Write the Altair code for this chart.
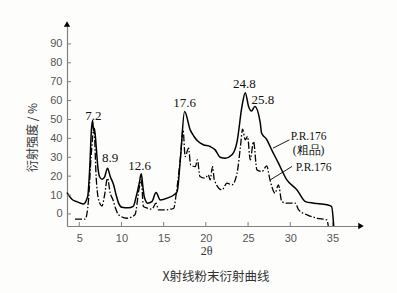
import altair as alt
import pandas as pd

# ---- data ----
crude_x = [3.55, 4.2, 4.7, 5.5, 6.0, 6.25, 6.45, 6.58, 6.7, 6.8, 7.0, 7.2, 7.4, 7.7, 8.0, 8.35,
           8.67, 9.07, 9.4, 9.66, 10.05, 10.8, 11.4, 11.75, 12.1, 12.35, 12.55, 12.7, 13.1, 13.6,
           14.1, 14.6, 15.5, 16.2, 16.6, 17.0, 17.48, 18.15, 18.6, 19.1, 19.7, 20.5, 21.1, 21.7,
           22.3, 23.1, 23.7, 24.28, 24.67, 25.06, 25.4, 25.8, 26.45, 26.6, 27.2, 27.8, 28.6, 29.6,
           30.8, 31.8, 32.8, 34.35, 34.9, 35.15]
crude_y = [11.3, 7.5, 6.5, 5.3, 9.2, 25, 45, 49.5, 44, 45.4, 36, 25, 19.8, 18.4, 19.5, 24.2,
           19.8, 15.4, 9.5, 5.7, 3.5, 3.2, 4, 9.2, 16, 21.2, 14, 9.2, 5.7, 6.5,
           11.3, 7.4, 8.5, 10, 11.8, 30, 54.2, 44.5, 41, 38.3, 36.6, 35.7, 33.9, 30,
           29.5, 31.3, 38.3, 56.9, 64.2, 56.9, 54.5, 56.8, 48, 42.8, 39.5, 33.9, 26.9, 18,
           12.7, 6.5, 5.7, 4.8, 3.9, -6.4]

pure_x = [4.5, 5.7, 6.1, 6.4, 6.75, 7.0, 7.3, 7.7, 8.0, 8.35, 8.67, 9.0, 9.3, 9.66, 10.65,
          11.6, 12.1, 12.35, 12.6, 13.1, 13.6, 14.1, 14.4, 15.0, 15.8, 16.2, 16.5, 17.0, 17.3,
          17.55, 17.95, 18.2, 18.75, 19.0, 19.3, 19.9, 20.3, 20.5, 20.8, 21.0, 21.9, 22.5, 23.1,
          23.7, 24.1, 24.35, 24.67, 24.94, 25.26, 25.65, 26.05, 26.65, 27.2, 27.6, 28.2, 28.6,
          29.0, 29.6, 30.6, 31.0, 32.0, 33.2, 34.35, 34.5]
pure_y = [-2.8, -2.8, 7.4, 30, 45, 19.8, 7.4, 4.2, 10, 18.9, 11, 7.4, 3, -0.5, -2.3,
          -0.5, 13.6, 18, 3.9, 3, 2.5, 5.7, 2.1, 2.1, 2.5, 3, 11, 30.4, 44.5,
          30.4, 34.8, 26, 25, 28.6, 19.8, 18.9, 20.7, 18, 25, 18, 12.7, 16.3, 15.4,
          21.6, 35.7, 44.9, 39.2, 41, 28.6, 38.3, 23.3, 22.4, 25.4, 18, 11, 15.4,
          6.5, 5.7, 5.7, 2.1, -0.5, -2.3, -3.2, -6.4]

peak_text = ["7.2", "8.9", "12.6", "17.6", "24.8", "25.8"]
peak_x = [6.66, 8.67, 12.14, 17.48, 24.55, 26.76]
peak_y = [51.6, 29.5, 25.6, 58.7, 68.9, 60.4]

series_text = ["P.R.176", "(粗品)", "P.R.176"]
series_x = [32.17, 32.17, 32.76]
series_y = [40.7, 33.4, 24.2]

leader_x = [27.95, 27.63]
leader_y = [34.8, 18.0]
leader_x2 = [29.9, 30.2]
leader_y2 = [39.2, 25.1]

x_ticks = [5, 10, 15, 20, 25, 30, 35]
y_ticks = [0, 10, 20, 30, 40, 50, 60, 70, 80, 90]

W, H = 295, 201
xs = alt.Scale(domain=[3.55, 38.5], nice=False, zero=False)
ys = alt.Scale(domain=[-6.4, 100], nice=False, zero=False)

crude = pd.DataFrame({"x": crude_x, "y": crude_y})
pure = pd.DataFrame({"x": pure_x, "y": pure_y})
peaks = pd.DataFrame({"t": peak_text, "x": peak_x, "y": peak_y})
series = pd.DataFrame({"t": series_text, "x": series_x, "y": series_y})
leaders = pd.DataFrame({"x": leader_x, "y": leader_y, "x2": leader_x2, "y2": leader_y2})
xt = pd.DataFrame({"x": x_ticks})
yt = pd.DataFrame({"y": y_ticks})
one = pd.DataFrame({"t": ["X射线粉末衍射曲线"]})

label_col = "#555555"

x_axis = alt.Axis(
    values=x_ticks, ticks=False, grid=False, domainColor="#808080", domainWidth=1.2,
    labelFont="Liberation Sans", labelFontSize=11, labelColor=label_col, labelPadding=6,
    title="2θ", titleFont="Liberation Serif", titleFontSize=12, titleFontWeight="normal",
    titleColor="#333333", titleX=139, titleY=24, titleBaseline="middle")
y_axis = alt.Axis(
    values=y_ticks, ticks=False, grid=False, domainColor="#808080", domainWidth=1.2,
    labelFont="Liberation Sans", labelFontSize=11, labelColor=label_col, labelPadding=5,
    title="衍射强度 / %", titleFont="Noto Sans CJK SC", titleFontSize=12,
    titleFontWeight="normal", titleColor="#333333", titleX=-35, titleY=112,
    titleBaseline="middle", titleAlign="center")

X = alt.X("x:Q", scale=xs, axis=x_axis)
Y = alt.Y("y:Q", scale=ys, axis=y_axis)

base_line = alt.Chart(crude).mark_line(color="black", strokeWidth=1.5, interpolate="monotone").encode(
    x=X, y=Y)

pure_line = alt.Chart(pure).mark_line(color="black", strokeWidth=1.3, strokeDash=[7, 2, 1.5, 2],
                                      interpolate="monotone").encode(x=X, y=Y)

peak_lbl = alt.Chart(peaks).mark_text(font="Liberation Serif", fontSize=13, color="#111111",
                                      baseline="middle", align="center").encode(
    x=X, y=Y, text="t:N")

series_lbl = alt.Chart(series).mark_text(font="Liberation Serif", fontSize=11.5, color="#111111",
                                         baseline="middle", align="center").encode(
    x=X, y=Y, text="t:N")

leader = alt.Chart(leaders).mark_rule(color="black", strokeWidth=0.9).encode(
    x=X, y=Y, x2="x2:Q", y2="y2:Q")

xtick = alt.Chart(xt).mark_rule(color="#808080", strokeWidth=1).encode(
    x=X, y=alt.value(H), y2=alt.value(H - 4))
ytick = alt.Chart(yt).mark_rule(color="#808080", strokeWidth=1).encode(
    y=Y, x=alt.value(0), x2=alt.value(4))

arrow_up = alt.Chart(one).mark_point(shape="triangle-up", filled=True, size=40, color="black",
                                     opacity=1).encode(x=alt.value(0), y=alt.value(-1))
arrow_right = alt.Chart(one).mark_point(shape="triangle-right", filled=True, size=40, color="black",
                                        opacity=1).encode(x=alt.value(W - 1), y=alt.value(H))

caption = alt.Chart(one).mark_text(font="Noto Sans CJK SC", fontSize=12.5, color="#333333",
                                   align="center", baseline="middle").encode(
    x=alt.value(149), y=alt.value(252), text="t:N")

chart = alt.layer(base_line, pure_line, peak_lbl, series_lbl, leader, xtick, ytick,
                  arrow_up, arrow_right, caption).properties(
    width=W, height=H,
    autosize=alt.AutoSizeParams(type="none"),
    padding={"left": 67, "top": 25, "right": 35, "bottom": 67},
    background="#fdfdfc",
).configure_view(stroke=None)

chart.save("out.html", embed_options={"renderer": "svg", "actions": False})
